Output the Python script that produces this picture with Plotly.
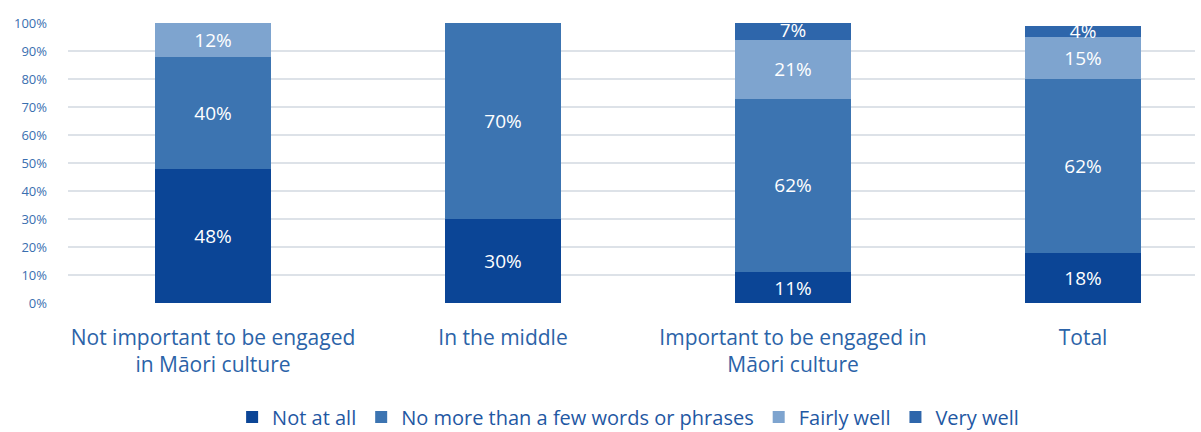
import plotly.graph_objects as go

categories = ["Not important to be engaged<br>in Māori culture", "In the middle",
              "Important to be engaged in<br>Māori culture", "Total"]
series_names = ["Not at all", "No more than a few words or phrases", "Fairly well", "Very well"]
not_at_all = [48, 30, 11, 18]
few_words = [40, 70, 62, 62]
fairly_well = [12, 0, 21, 15]
very_well = [0, 0, 7, 4]
tick_vals = [0, 10, 20, 30, 40, 50, 60, 70, 80, 90, 100]
tick_text = [f"{v}%" for v in tick_vals]

colors = ["#0b4596", "#3c74b1", "#7ea4cf", "#2e66ab"]
series = [not_at_all, few_words, fairly_well, very_well]

fig = go.Figure()
for name, vals, col in zip(series_names, series, colors):
    fig.add_trace(go.Bar(
        x=list(range(len(categories))), y=vals, name=name,
        marker=dict(color=col, line=dict(width=0)),
        width=0.403,
        text=[f"{v}%" if v > 0 else "" for v in vals],
        textposition="inside", insidetextanchor="middle",
        textfont=dict(color="white", size=19, family="Open Sans"),
        constraintext="none",
    ))

fig.update_layout(
    barmode="stack",
    width=1201, height=432,
    margin=dict(l=68, r=6, t=23, b=129, autoexpand=False),
    plot_bgcolor="white", paper_bgcolor="white",
    font=dict(family="Open Sans", color="#2b63a8"),
    uniformtext=dict(mode=False),
    legend=dict(orientation="h", x=0.497, xanchor="center", yref="container",
                y=0.035, yanchor="middle",
                font=dict(size=20, color="#1f58a3"), traceorder="normal",
                itemwidth=30, tracegroupgap=0),
    xaxis=dict(tickmode="array", tickvals=list(range(len(categories))), ticktext=categories,
               range=[-0.5, 3.386], showgrid=False, zeroline=False, showline=False,
               automargin=False,
               tickfont=dict(size=21, color="#2b63a8"), ticks="", ticklabelstandoff=20),
    yaxis=dict(range=[0, 100], tickvals=tick_vals, ticktext=tick_text,
               showgrid=True, gridcolor="#dde2e8", gridwidth=2, zeroline=False,
               automargin=False,
               tickfont=dict(size=13, color="#3a6fb0"), ticks="", ticklabelstandoff=20),
)

fig.write_html("out.html")
